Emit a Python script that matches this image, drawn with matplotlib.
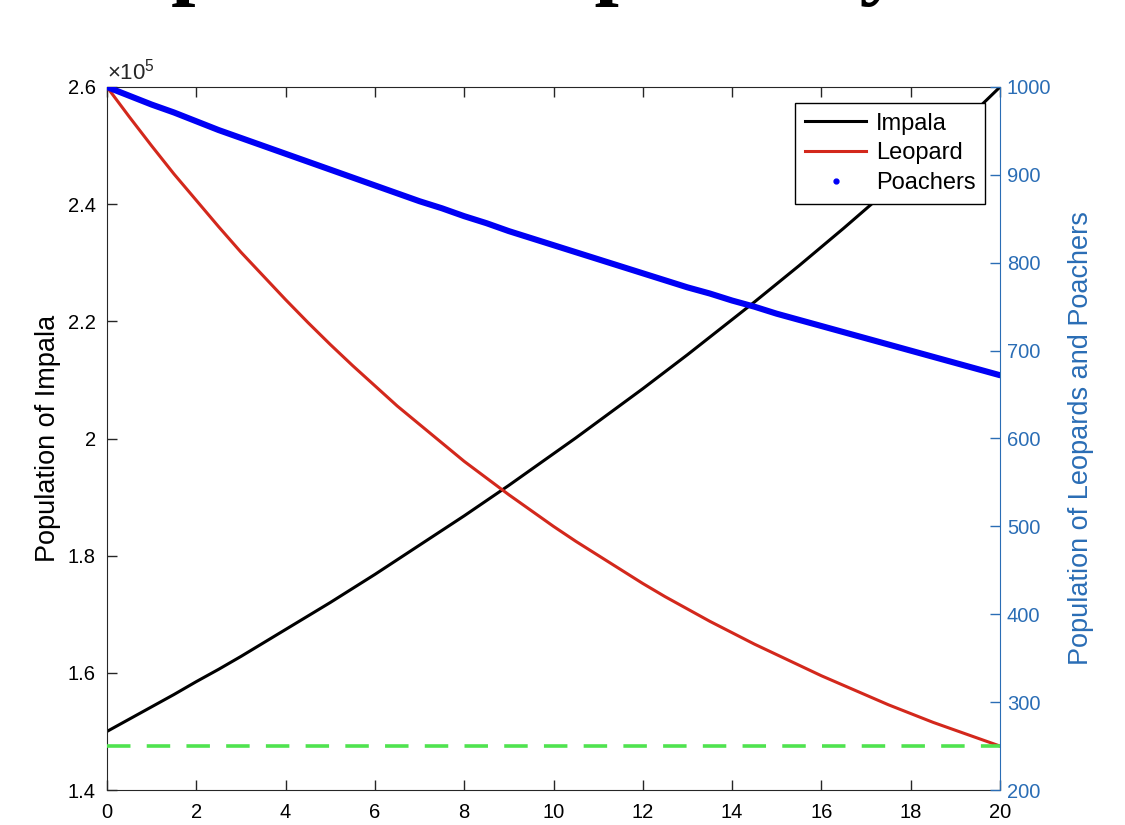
import matplotlib
matplotlib.use('Agg')
import matplotlib.pyplot as plt
from matplotlib.lines import Line2D
from matplotlib.ticker import FuncFormatter, MultipleLocator

plt.rcParams['font.family'] = ['Liberation Sans', 'DejaVu Sans']
plt.rcParams['mathtext.fontset'] = 'custom'
plt.rcParams['mathtext.rm'] = 'Liberation Sans'
plt.rcParams['mathtext.it'] = 'Liberation Sans:italic'

# Data (every half year, 0..20)
years = [i * 0.5 for i in range(41)]
impala = [150000, 152100, 154200, 156300, 158500, 160600, 162800, 165100,
          167400, 169700, 172000, 174400, 176800, 179300, 181800, 184300,
          186800, 189400, 192000, 194700, 197400, 200100, 202900, 205700,
          208500, 211400, 214300, 217300, 220300, 223300, 226400, 229500,
          232700, 235900, 239200, 242500, 245900, 249300, 252700, 256300,
          260000]
leopard = [1000, 966, 933, 901, 871, 841, 812, 785, 758, 732, 707, 683,
           660, 637, 616, 595, 574, 555, 536, 518, 500, 483, 467, 451,
           435, 420, 406, 392, 379, 366, 354, 342, 330, 319, 308, 297,
           287, 277, 268, 259, 250]
poachers = [1000, 990, 980, 971, 961, 951, 942, 933, 924, 915, 906, 897,
            888, 879, 870, 862, 853, 845, 836, 828, 820, 812, 804, 796,
            788, 780, 772, 765, 757, 750, 742, 735, 728, 721, 714, 707,
            700, 693, 686, 679, 672]
leopard_threshold = 250

title_text = 'Impala vs Leopard Dynamics'

matlab_blue = '#2a6db5'
axis_grey = '#262626'

fig = plt.figure(figsize=(11.25, 8.25), dpi=100)
ax = fig.add_axes([107 / 1125, 1 - 790 / 825, 893 / 1125, 703 / 825])
ax2 = ax.twinx()

# left axis: impala
ax.plot(years, impala, color='black', lw=2.2, label='Impala')
ax.set_xlim(0, 20)
ax.set_ylim(140000, 260000)
ax.set_yticks([140000 + 20000 * i for i in range(7)])
ax.yaxis.set_major_formatter(FuncFormatter(lambda v, p: '%g' % round(v / 1e5, 2)))
ax.xaxis.set_major_locator(MultipleLocator(2))
ax.set_ylabel('Population of Impala', fontsize=19.5, labelpad=5, color='black')
ax.text(0.0, 1.003, r'$\times10^{5}$', transform=ax.transAxes, fontsize=16,
        color=axis_grey, ha='left', va='bottom')

# right axis: leopards and poachers
ax2.plot(years, leopard, color='#d3281c', lw=2.2, label='Leopard')
ax2.plot(years, poachers, color='#0000f5', lw=4.4, solid_capstyle='round',
         label='Poachers')
ax2.axhline(leopard_threshold, color='#4fe34f', lw=2.6, dashes=(6.5, 4.5))
ax2.set_ylim(200, 1000)
ax2.set_yticks(range(200, 1001, 100))
ax2.set_ylabel('Population of Leopards and Poachers', fontsize=19.5,
               color=matlab_blue, labelpad=12)

for a in (ax, ax2):
    a.tick_params(direction='in', length=7, width=1, labelsize=14.5)
ax.tick_params(axis='both', colors=axis_grey, labelcolor='black', top=True, right=False)
ax.tick_params(axis='x', pad=9)
ax.tick_params(axis='y', pad=8)
ax2.tick_params(axis='y', colors=matlab_blue, labelcolor=matlab_blue, pad=5)
for s in ('left', 'top', 'bottom'):
    ax.spines[s].set_color(axis_grey)
ax.spines['right'].set_visible(False)
ax2.spines['left'].set_visible(False)
ax2.spines['top'].set_visible(False)
ax2.spines['bottom'].set_visible(False)
ax2.spines['right'].set_color(matlab_blue)

handles = [
    Line2D([], [], color='black', lw=2.2),
    Line2D([], [], color='#d3281c', lw=2.2),
    Line2D([], [], color='#0000f5', ls='none', marker='.', markersize=7),
]
leg = ax2.legend(handles, ['Impala', 'Leopard', 'Poachers'], loc='upper right',
                 bbox_to_anchor=(0.983, 0.977), borderaxespad=0, fontsize=17,
                 fancybox=False, framealpha=1, edgecolor='black',
                 handlelength=2.6, handletextpad=0.4, labelspacing=0.33,
                 borderpad=0.4)
leg.get_frame().set_linewidth(1.0)

# title, mostly cut off by the top edge as in the reference
fig.text(64 / 1125, 1 + 12 / 825, title_text, fontsize=63, fontweight='bold',
         family=['Liberation Serif', 'DejaVu Serif'], ha='left', va='baseline')

fig.savefig('out.png', dpi=100)
